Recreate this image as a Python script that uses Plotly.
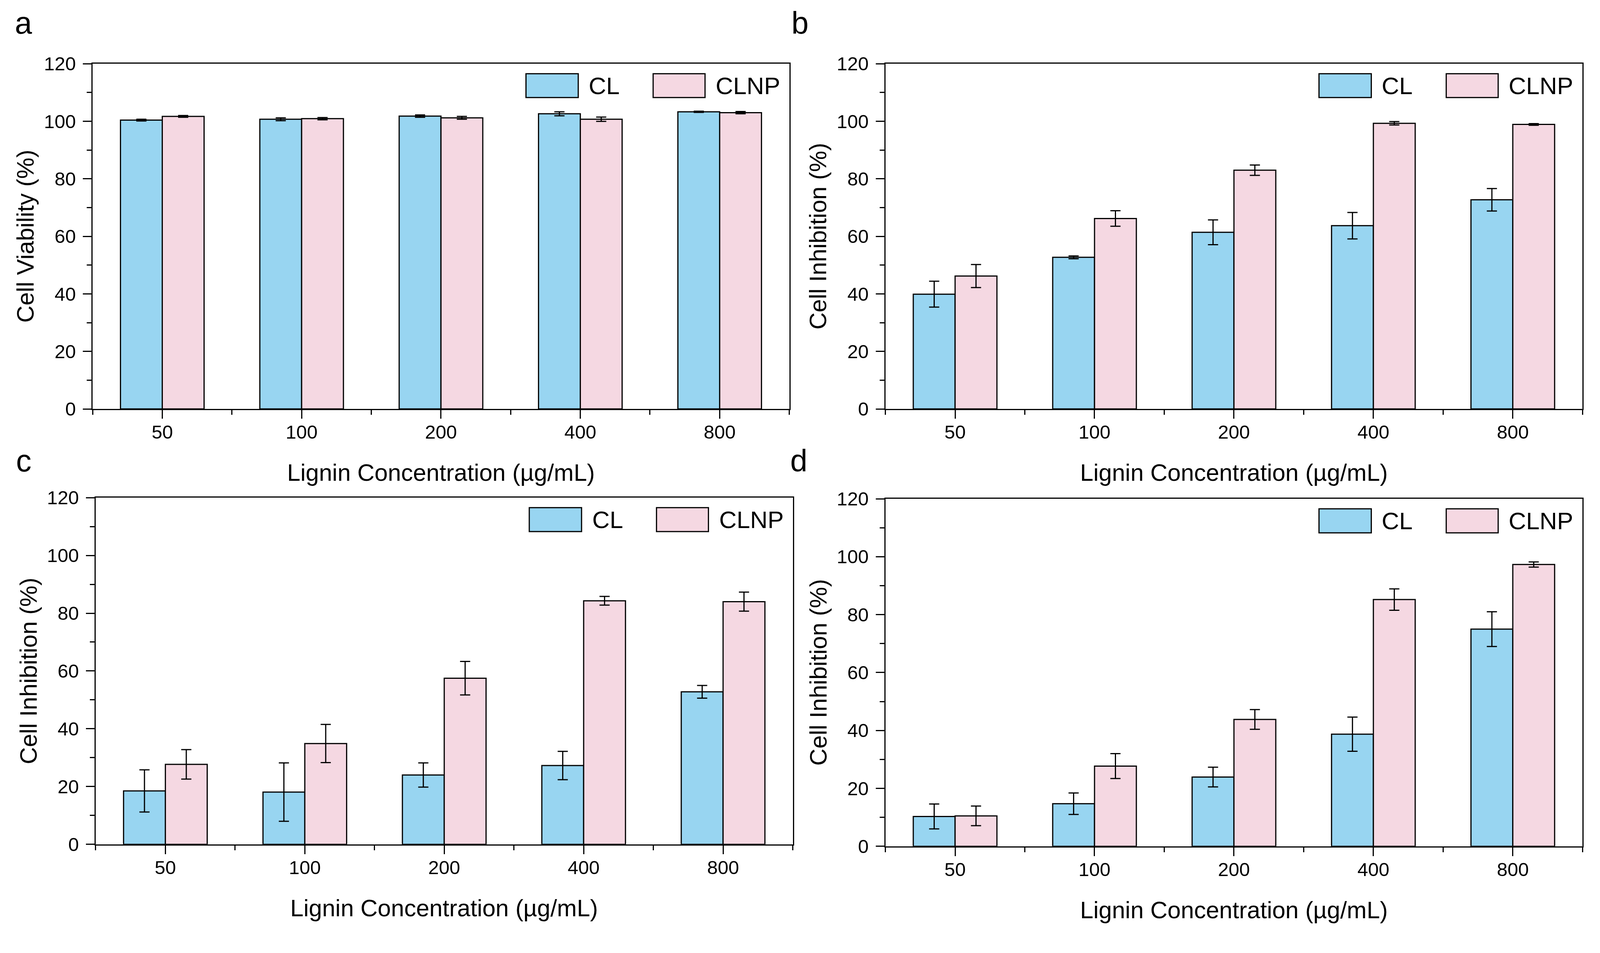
import plotly.graph_objects as go

categories = ["50", "100", "200", "400", "800"]
series_names = ["CL", "CLNP"]

# Panel a: Cell Viability (%)
a_cl = [100.4, 100.7, 101.8, 102.6, 103.3]
a_cl_err = [0.3, 0.5, 0.4, 0.7, 0.2]
a_clnp = [101.7, 100.9, 101.2, 100.7, 103.0]
a_clnp_err = [0.3, 0.4, 0.5, 0.75, 0.4]

# Panel b: Cell Inhibition (%)
b_cl = [39.9, 52.7, 61.4, 63.7, 72.7]
b_cl_err = [4.5, 0.5, 4.3, 4.6, 3.9]
b_clnp = [46.2, 66.2, 83.0, 99.3, 98.9]
b_clnp_err = [4.0, 2.7, 1.8, 0.6, 0.3]

# Panel c: Cell Inhibition (%)
c_cl = [18.5, 18.1, 24.0, 27.3, 52.8]
c_cl_err = [7.3, 10.1, 4.2, 4.9, 2.2]
c_clnp = [27.7, 34.9, 57.5, 84.3, 84.0]
c_clnp_err = [5.1, 6.6, 5.8, 1.5, 3.3]

# Panel d: Cell Inhibition (%)
d_cl = [10.3, 14.7, 23.9, 38.7, 75.0]
d_cl_err = [4.3, 3.7, 3.4, 5.9, 6.0]
d_clnp = [10.5, 27.7, 43.8, 85.2, 97.3]
d_clnp_err = [3.4, 4.3, 3.4, 3.7, 0.9]

panel_labels = ["a", "b", "c", "d"]
y_titles = ["Cell Viability (%)", "Cell Inhibition (%)", "Cell Inhibition (%)", "Cell Inhibition (%)"]
x_title = "Lignin Concentration (µg/mL)"
y_ticks = [0, 20, 40, 60, 80, 100, 120]

FONT = "Liberation Sans, Arial, Helvetica, sans-serif"
COL_CL = "#98D5F1"
COL_CLNP = "#F5D8E2"

# layout helpers: map reference-image pixel positions to paper fractions
W_CSS, H_CSS, K, OFF = 4095.0, 2424.0, 0.9831, 8.0
def fx(px):
    return (px * K - OFF) / W_CSS
def fy(py):
    return 1 - (py * K - OFF) / H_CSS

plot_rects = [  # left, right, top, bottom (reference px)
    (242, 2063, 166, 1065),
    (2314, 4136, 166, 1065),
    (250, 2072, 1296, 2199),
    (2314, 4136, 1299, 2204),
]
letter_px = [(61, 60), (2091, 59), (62, 1200), (2088, 1200)]

panel_data = [
    (a_cl, a_cl_err, a_clnp, a_clnp_err),
    (b_cl, b_cl_err, b_clnp, b_clnp_err),
    (c_cl, c_cl_err, c_clnp, c_clnp_err),
    (d_cl, d_cl_err, d_clnp, d_clnp_err),
]

xpos = list(range(len(categories)))
fig = go.Figure()
shapes = []
annotations = []
layout = {}

for i, ((l, r, t, b), (cl, cle, cn, cne)) in enumerate(zip(plot_rects, panel_data)):
    sfx = "" if i == 0 else str(i + 1)
    xa, ya = "x" + sfx, "y" + sfx
    for name, vals, errs, col in [("CL", cl, cle, COL_CL), ("CLNP", cn, cne, COL_CLNP)]:
        fig.add_trace(go.Bar(
            x=xpos, y=vals, name=name, xaxis=xa, yaxis=ya, showlegend=False,
            marker=dict(color=col, line=dict(color="black", width=3)),
            error_y=dict(type="data", array=errs, visible=True, color="black",
                         thickness=3, width=13),
        ))
    axis_common = dict(showline=True, linecolor="black", linewidth=3, mirror=True,
                       ticks="outside", tickcolor="black", tickwidth=3, ticklen=22,
                       showgrid=False, zeroline=False, automargin=False,
                       tickfont=dict(family=FONT, size=49, color="black"))
    layout["xaxis" + sfx] = dict(axis_common, domain=[fx(l), fx(r)], anchor=ya,
                                 range=[-0.5, 4.5],
                                 tickmode="array", tickvals=xpos, ticktext=categories,
                                 ticklabelstandoff=-8,
                                 minor=dict(ticks="outside", ticklen=12, tickwidth=3,
                                            tickcolor="black", tickmode="array",
                                            tickvals=[-0.5, 0.5, 1.5, 2.5, 3.5, 4.5]))
    layout["yaxis" + sfx] = dict(axis_common, domain=[fy(b), fy(t)], anchor=xa,
                                 range=[0, 120],
                                 tickmode="array", tickvals=y_ticks,
                                 ticklabelstandoff=8,
                                 minor=dict(ticks="outside", ticklen=12, tickwidth=3,
                                            tickcolor="black", dtick=10, tick0=0))
    # axis titles
    annotations.append(dict(text=x_title, xref=xa + " domain", yref=ya + " domain",
                            x=0.5, y=0, xanchor="center", yanchor="middle", yshift=-163,
                            showarrow=False, font=dict(family=FONT, size=61, color="black")))
    annotations.append(dict(text=y_titles[i], xref=xa + " domain", yref=ya + " domain",
                            x=0, y=0.5, xanchor="center", yanchor="middle", xshift=-172,
                            textangle=-90, showarrow=False,
                            font=dict(family=FONT, size=61, color="black")))
    # panel letter
    lx, ly = letter_px[i]
    annotations.append(dict(text=panel_labels[i], xref="paper", yref="paper",
                            x=fx(lx), y=fy(ly), xanchor="center", yanchor="middle",
                            showarrow=False, font=dict(family=FONT, size=79, color="black")))
    # legend (drawn inside each panel)
    for (x0, x1, tx, col, name) in [(0.622, 0.697, 0.711, COL_CL, "CL"),
                                    (0.8045, 0.879, 0.893, COL_CLNP, "CLNP")]:
        shapes.append(dict(type="rect", xref=xa + " domain", yref=ya + " domain",
                           x0=x0, x1=x1, y0=0.902, y1=0.971, fillcolor=col,
                           line=dict(color="black", width=3)))
        annotations.append(dict(text=name, xref=xa + " domain", yref=ya + " domain",
                                x=tx, y=0.9365, xanchor="left", yanchor="middle",
                                showarrow=False,
                                font=dict(family=FONT, size=62, color="black")))

fig.update_layout(**layout)
fig.update_layout(
    autosize=True, margin=dict(l=0, r=0, t=0, b=0, autoexpand=False),
    paper_bgcolor="white", plot_bgcolor="white",
    barmode="group", bargap=0.4, bargroupgap=0,
    shapes=shapes, annotations=annotations, showlegend=False,
)
fig.write_html("out.html", default_width="100%", default_height="100%")
